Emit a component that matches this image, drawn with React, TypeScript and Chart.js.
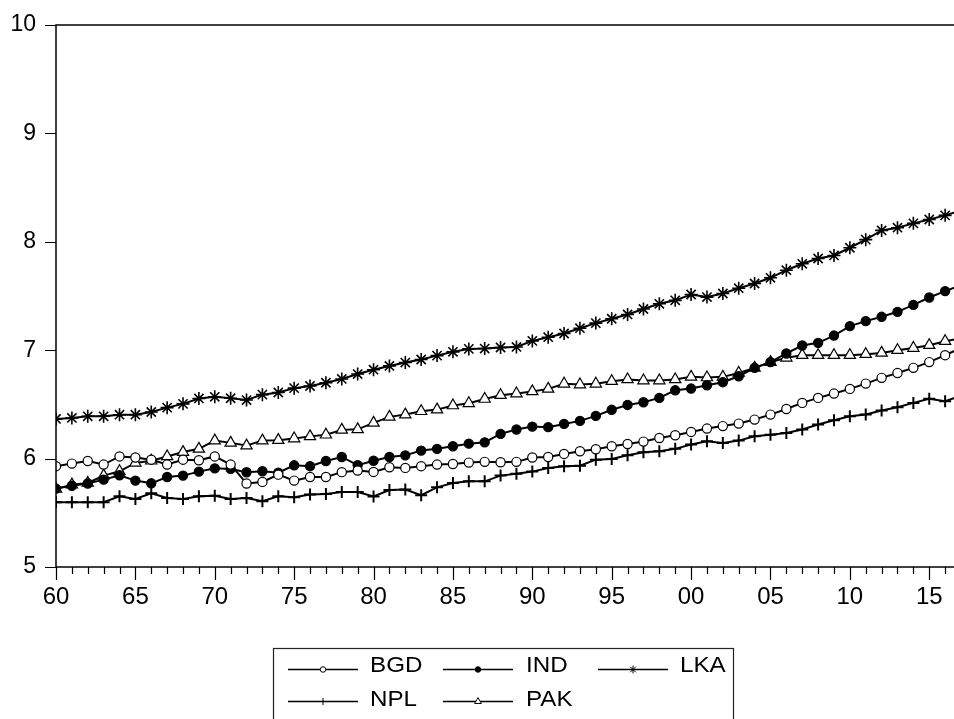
import React, { useEffect, useRef } from 'react';
import { Chart, registerables } from 'chart.js';
import { drawPoint } from 'chart.js/helpers';

Chart.register(...registerables);

// ---- data (1960 .. 2017) ----
const START_YEAR = 1960;
const END_YEAR = 2017;
const LAST_LABEL_YEAR = 2015;
const years = Array.from({ length: END_YEAR - START_YEAR + 1 }, (_, i) => START_YEAR + i);

const BGD = [
  5.93, 5.954, 5.978, 5.945, 6.02, 6.01, 5.99, 5.945, 5.99, 5.985,
  6.02, 5.945, 5.77, 5.785, 5.852, 5.797, 5.83, 5.83, 5.875, 5.89,
  5.877, 5.92, 5.914, 5.93, 5.945, 5.95, 5.963, 5.97, 5.966, 5.97,
  6.01, 6.015, 6.043, 6.068, 6.086, 6.114, 6.135, 6.157, 6.19, 6.215,
  6.246, 6.277, 6.3, 6.323, 6.36, 6.406, 6.458, 6.514, 6.56, 6.6,
  6.643, 6.692, 6.745, 6.79, 6.837, 6.89, 6.954, 7.02,
];
const IND = [
  5.723, 5.75, 5.77, 5.806, 5.846, 5.797, 5.772, 5.83, 5.843, 5.88,
  5.91, 5.905, 5.874, 5.883, 5.87, 5.938, 5.93, 5.978, 6.015, 5.94,
  5.98, 6.015, 6.03, 6.074, 6.09, 6.114, 6.138, 6.15, 6.228, 6.268,
  6.295, 6.29, 6.32, 6.348, 6.394, 6.45, 6.495, 6.52, 6.56, 6.63,
  6.646, 6.677, 6.705, 6.76, 6.837, 6.89, 6.97, 7.043, 7.068, 7.135,
  7.222, 7.268, 7.308, 7.354, 7.418, 7.486, 7.545, 7.6,
];
const LKA = [
  6.366, 6.375, 6.39, 6.39, 6.405, 6.405, 6.43, 6.47, 6.505, 6.555,
  6.57, 6.557, 6.54, 6.59, 6.61, 6.65, 6.67, 6.7, 6.735, 6.78,
  6.82, 6.855, 6.886, 6.914, 6.95, 6.985, 7.012, 7.015, 7.025, 7.03,
  7.086, 7.12, 7.154, 7.203, 7.25, 7.29, 7.33, 7.38, 7.428, 7.46,
  7.514, 7.49, 7.523, 7.572, 7.615, 7.668, 7.738, 7.797, 7.846, 7.874,
  7.945, 8.02, 8.105, 8.13, 8.17, 8.206, 8.244, 8.29,
];
const NPL = [
  5.597, 5.597, 5.597, 5.597, 5.652, 5.628, 5.68, 5.637, 5.628, 5.652,
  5.658, 5.628, 5.637, 5.606, 5.652, 5.643, 5.668, 5.674, 5.692, 5.692,
  5.65, 5.71, 5.714, 5.662, 5.735, 5.775, 5.79, 5.79, 5.843, 5.86,
  5.88, 5.914, 5.93, 5.935, 5.99, 5.997, 6.03, 6.058, 6.068, 6.09,
  6.13, 6.16, 6.145, 6.166, 6.206, 6.22, 6.237, 6.268, 6.314, 6.354,
  6.39, 6.406, 6.443, 6.474, 6.514, 6.551, 6.53, 6.58,
];
const PAK = [
  5.72, 5.76, 5.775, 5.843, 5.883, 5.96, 5.98, 6.02, 6.06, 6.09,
  6.166, 6.145, 6.12, 6.166, 6.17, 6.185, 6.205, 6.22, 6.265, 6.27,
  6.33, 6.385, 6.406, 6.437, 6.452, 6.49, 6.51, 6.55, 6.585, 6.6,
  6.62, 6.643, 6.69, 6.683, 6.69, 6.714, 6.73, 6.72, 6.72, 6.73,
  6.754, 6.748, 6.754, 6.79, 6.837, 6.89, 6.93, 6.954, 6.954, 6.954,
  6.954, 6.963, 6.975, 7.0, 7.02, 7.046, 7.083, 7.11,
];

const SERIES_NAMES = ['BGD', 'IND', 'LKA', 'NPL', 'PAK'];
const SERIES_VALUES = [BGD, IND, LKA, NPL, PAK];
const Y_MIN = 5;
const Y_MAX = 10;

// ---- styles ----
const FONT = '"Liberation Sans", Arial, Helvetica, sans-serif';
const MARKERS: Record<string, { style: string; fill: string; radius: number; bw: number }> = {
  BGD: { style: 'circle', fill: '#ffffff', radius: 4.6, bw: 1.2 },
  IND: { style: 'circle', fill: '#000000', radius: 4.6, bw: 1.2 },
  LKA: { style: 'star', fill: '#000000', radius: 6.5, bw: 1.6 },
  NPL: { style: 'cross', fill: '#000000', radius: 6, bw: 2 },
  PAK: { style: 'triangle', fill: '#ffffff', radius: 6.5, bw: 1.2 },
};

const W = 980;
const H = 719;
const PLOT_BOTTOM = 567;
const PLOT_RIGHT = 961;
const PLOT_LEFT = 56;
const PLOT_TOP = 25;

const framePlugin = {
  id: 'eviewsFrame',
  afterDraw(chart: any) {
    const { ctx, chartArea: a, scales } = chart;
    const xs = scales.x;
    const ys = scales.y;
    ctx.save();
    ctx.strokeStyle = '#000';
    ctx.lineWidth = 1.5;
    ctx.strokeRect(a.left, a.top, a.right - a.left, a.bottom - a.top);
    ctx.lineWidth = 1.2;
    ctx.beginPath();
    for (const yr of years) {
      const px = Math.round(xs.getPixelForValue(yr)) + 0.5;
      const len = yr % 5 === 0 ? 13 : 7;
      ctx.moveTo(px, a.bottom);
      ctx.lineTo(px, a.bottom + len);
    }
    for (let v = Y_MIN; v <= Y_MAX; v++) {
      const py = Math.round(ys.getPixelForValue(v)) + 0.5;
      ctx.moveTo(a.left - 11, py);
      ctx.lineTo(a.left, py);
    }
    ctx.stroke();

    // legend
    ctx.lineWidth = 1.2;
    ctx.strokeStyle = '#222';
    ctx.strokeRect(273.5, 648.5, 460, 120);
    const lineX = [288, 443, 598];
    const textX = [370, 526, 680];
    const lineY = [669.5, 701.5];
    const textY = [666, 700];
    SERIES_NAMES.forEach((name, i) => {
      const col = i % 3;
      const row = Math.floor(i / 3);
      const m = MARKERS[name];
      ctx.strokeStyle = '#000';
      ctx.lineWidth = 1.3;
      ctx.beginPath();
      ctx.moveTo(lineX[col], lineY[row]);
      ctx.lineTo(lineX[col] + 70, lineY[row]);
      ctx.stroke();
      ctx.fillStyle = m.fill;
      ctx.strokeStyle = '#000';
      ctx.lineWidth = 1;
      drawPoint(ctx, { pointStyle: m.style, rotation: 0, radius: m.radius * 0.6, borderWidth: 1 } as any, lineX[col] + 35, lineY[row]);
      ctx.save();
      ctx.fillStyle = '#000';
      ctx.font = `22px ${FONT}`;
      ctx.textBaseline = 'middle';
      ctx.textAlign = 'left';
      ctx.translate(textX[col], textY[row]);
      ctx.scale(1.1, 1);
      ctx.fillText(name, 0, 0);
      ctx.restore();
    });
    ctx.restore();
  },
};

export default function App() {
  const ref = useRef<HTMLCanvasElement | null>(null);
  useEffect(() => {
    if (!ref.current) return;
    const datasets = SERIES_NAMES.map((name, i) => {
      const m = MARKERS[name];
      return {
        label: name,
        data: years.map((yr, j) => ({ x: yr, y: SERIES_VALUES[i][j] })),
        borderColor: '#000',
        borderWidth: 2,
        tension: 0,
        pointStyle: m.style,
        pointRadius: m.radius,
        pointBorderWidth: m.bw,
        pointBackgroundColor: m.fill,
        pointBorderColor: '#000',
        fill: false,
      };
    });
    const chart = new Chart(ref.current, {
      type: 'line',
      data: { datasets } as any,
      plugins: [framePlugin],
      options: {
        responsive: false,
        animation: false,
        devicePixelRatio: 1,
        layout: { padding: { top: PLOT_TOP, right: W - PLOT_RIGHT, left: 0, bottom: 0 } },
        plugins: { legend: { display: false }, tooltip: { enabled: false } },
        scales: {
          x: {
            type: 'linear',
            min: START_YEAR,
            max: END_YEAR,
            grid: { display: false, drawTicks: false },
            border: { display: false },
            afterFit: (s: any) => {
              s.height = H - PLOT_BOTTOM;
              s.paddingLeft = 0;
              s.paddingRight = 0;
            },
            ticks: {
              stepSize: 5,
              includeBounds: false,
              autoSkip: false,
              maxRotation: 0,
              padding: 16,
              color: '#000',
              font: { family: FONT, size: 24 },
              callback: (v: any) => (Number(v) % 5 === 0 && Number(v) <= LAST_LABEL_YEAR ? String(v).slice(2) : ''),
            },
          },
          y: {
            min: Y_MIN,
            max: Y_MAX,
            grid: { display: false, drawTicks: false },
            border: { display: false },
            afterFit: (s: any) => {
              s.width = PLOT_LEFT;
              s.paddingTop = 0;
              s.paddingBottom = 0;
            },
            ticks: { stepSize: 1, padding: 20, color: '#000', font: { family: FONT, size: 23 } },
          },
        },
      } as any,
    });
    return () => chart.destroy();
  }, []);
  return (
    <div style={{ position: 'fixed', left: 0, top: 0, width: 954, height: 719, overflow: 'hidden', background: '#fff' }}>
      <canvas ref={ref} width={W} height={H} style={{ width: W, height: H, display: 'block' }} />
    </div>
  );
}
